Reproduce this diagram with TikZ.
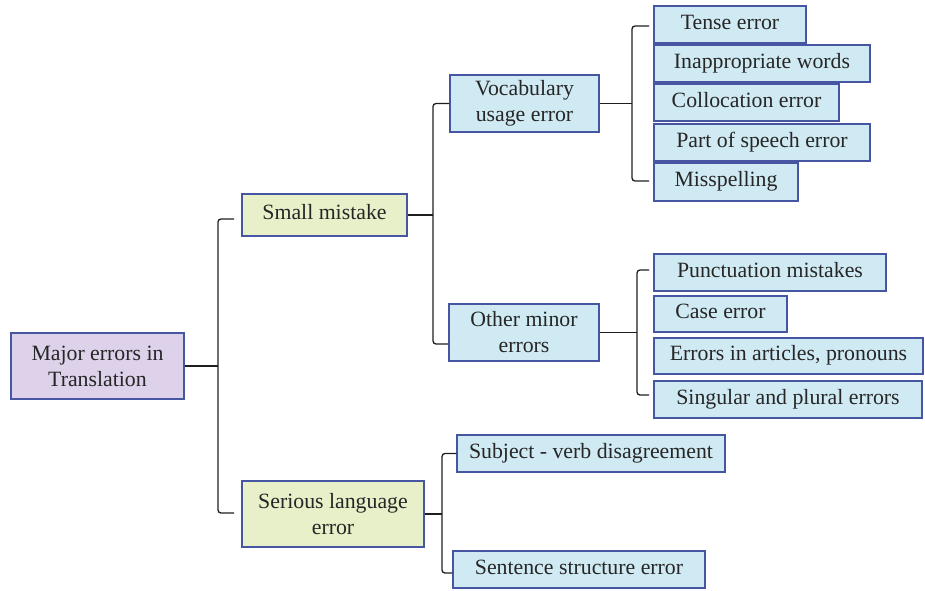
\documentclass[tikz,border=0pt]{standalone}
\usepackage{fontspec}
\setmainfont{Liberation Serif}
\definecolor{bordc}{RGB}{70,86,162}
\definecolor{bluef}{RGB}{208,234,243}
\definecolor{greenf}{RGB}{231,240,201}
\definecolor{purplef}{RGB}{222,209,234}
\definecolor{linec}{RGB}{30,30,30}
\begin{document}
\begin{tikzpicture}[x=1pt,y=-1pt,
  box/.style={draw=bordc, line width=1.1pt, inner sep=0pt, align=center,
    font=\fontsize{21.8}{26}\selectfont, text=black!85},
  one/.style={box, text height=15pt, text depth=5.2pt},
  bl/.style={fill=bluef},
  gr/.style={fill=greenf},
  pu/.style={fill=purplef},
  conn/.style={draw=linec, line width=1.3pt, rounded corners=3pt}]
\useasboundingbox (0,0) rectangle (925,590);

% nodes
\node[box,pu,minimum width=173pt,minimum height=66pt] (root) at (97.5,366) {Major errors in\\Translation};
\node[one,gr,minimum width=165pt,minimum height=42pt] (small) at (324.5,215) {Small mistake};
\node[box,gr,minimum width=182pt,minimum height=66pt] (serious) at (333,514) {Serious language\\error};
\node[box,bl,minimum width=149pt,minimum height=57pt] (vocab) at (524.5,103.5) {Vocabulary\\usage error};
\node[box,bl,minimum width=150pt,minimum height=57pt] (other) at (524,332.5) {Other minor\\errors};

\node[one,bl,minimum width=152pt,minimum height=37pt] (tense) at (730,24.5) {Tense error};
\node[one,bl,minimum width=216pt,minimum height=37pt] (inapp) at (762,63.5) {Inappropriate words};
\node[one,bl,minimum width=185pt,minimum height=37pt] (colloc) at (746.5,102.5) {Collocation error};
\node[one,bl,minimum width=216pt,minimum height=37pt] (pos) at (762,142.5) {Part of speech error};
\node[one,bl,minimum width=144pt,minimum height=38pt] (missp) at (726,182) {Misspelling};

\node[one,bl,minimum width=232pt,minimum height=37pt] (punct) at (770,272.5) {Punctuation mistakes};
\node[one,bl,minimum width=133pt,minimum height=36pt] (case) at (720.5,314) {Case error};
\node[one,bl,minimum width=269pt,minimum height=36pt] (artic) at (788.5,356) {Errors in articles, pronouns};
\node[one,bl,minimum width=268pt,minimum height=37pt] (sing) at (788,399.5) {Singular and plural errors};

\node[one,bl,minimum width=268pt,minimum height=37pt] (subj) at (591,453.5) {Subject - verb disagreement};
\node[one,bl,minimum width=252pt,minimum height=37pt] (sent) at (579,569.5) {Sentence structure error};

% coordinates
\coordinate (j1) at (218,366);
\coordinate (a1) at (234,219);
\coordinate (a2) at (234,513);
\coordinate (j2) at (433,215);
\coordinate (j3) at (632,103.5);
\coordinate (t1) at (649,26);
\coordinate (t2) at (649,181);
\coordinate (j4) at (637,332.5);
\coordinate (p1) at (649,270);
\coordinate (p2) at (649,395);
\coordinate (j5) at (442,514);

% connectors
\draw[conn] (root.east) -- (j1);
\draw[conn] (a1) -- (218,219) -- (218,513) -- (a2);

\draw[conn] (small.east) -- (j2);
\draw[conn] (vocab.west) -- (433,103.5) -- (433,344) -- ([yshift=-11.5pt]other.west);

\draw[conn] (vocab.east) -- (j3);
\draw[conn] (t1) -- (632,26) -- (632,181) -- (t2);

\draw[conn] (other.east) -- (j4);
\draw[conn] (p1) -- (637,270) -- (637,395) -- (p2);

\draw[conn] (serious.east) -- (j5);
\draw[conn] (subj.west) -- (442,453.5) -- (442,573) -- ([yshift=-3.5pt]sent.west);
\end{tikzpicture}
\end{document}
